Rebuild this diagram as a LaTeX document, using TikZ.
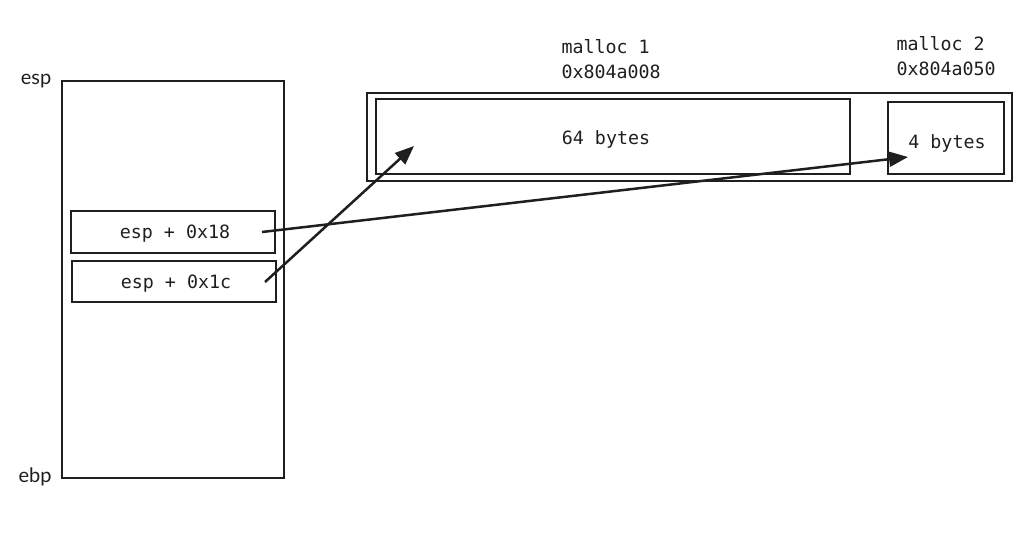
\documentclass[tikz,border=0pt]{standalone}
\usepackage{fontspec}
\setmonofont{DejaVu Sans Mono}
\setsansfont{Lato}
\usetikzlibrary{arrows.meta}
\begin{document}
\begin{tikzpicture}[x=1pt,y=-1pt,
  box/.style={draw=black!88,line width=2.5pt},
  mono/.style={font=\ttfamily\fontsize{18.3}{25}\selectfont,text=black!88},
  lbl/.style={font=\sffamily\fontsize{20}{24}\selectfont,text=black!88},
  ptr/.style={draw=black!88,line width=2.5pt,-{Triangle[length=19pt,width=15pt]}}]
\useasboundingbox (0,0) rectangle (1034,539);
% stack
\draw[box] (62,81) rectangle (284,478);
\node[lbl] (esp) at (36,81) {esp};
\node[lbl] (ebp) at (35,477) {ebp};
\node[box,minimum width=204pt,minimum height=42pt,inner sep=0pt] (b18) at (173,232) {};
\node[mono] (t18) at (175,234) {esp + 0x18};
\node[box,minimum width=204pt,minimum height=41pt,inner sep=0pt] (b1c) at (174,281.5) {};
\node[mono] (t1c) at (176,284) {esp + 0x1c};
% heap
\draw[box] (367,93) rectangle (1012,181);
\node[box,minimum width=474pt,minimum height=75pt,inner sep=0pt] (m1) at (613,136.5) {};
\node[mono] (t64) at (606,139) {64 bytes};
\node[box,minimum width=116pt,minimum height=72pt,inner sep=0pt] (m2) at (946,138) {};
\node[mono] (t4) at (947,143) {4 bytes};
\node[mono,anchor=west,align=left] (l1) at (558,59) {malloc 1\\0x804a008};
\node[mono,anchor=west,align=left] (l2) at (893,56) {malloc 2\\0x804a050};
% pointers
\coordinate (s1) at (265,282);
\coordinate (e1) at (414,146);
\coordinate (s2) at (262,232);
\coordinate (e2) at (908,157);
\draw[ptr] (s1) -- (e1);
\draw[ptr] (s2) -- (e2);
\end{tikzpicture}
\end{document}
